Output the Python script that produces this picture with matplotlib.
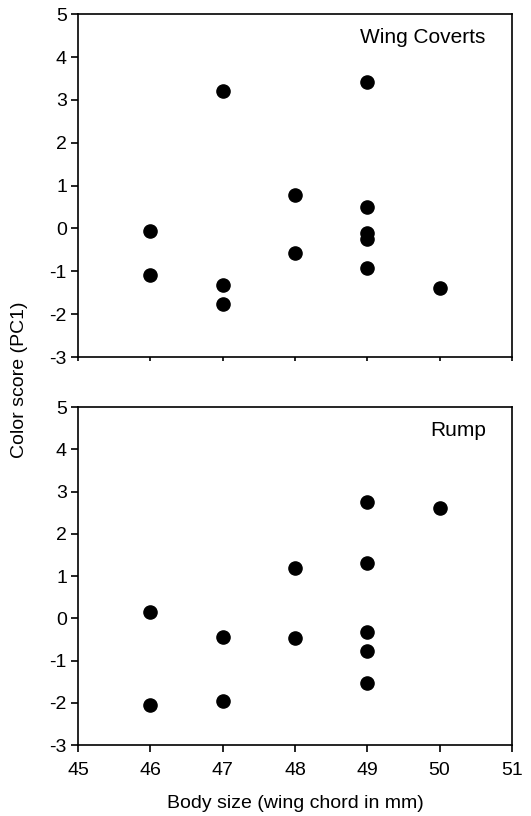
import matplotlib.pyplot as plt

plt.rcParams['font.family'] = ['Liberation Sans', 'DejaVu Sans']
plt.rcParams['axes.unicode_minus'] = False

# body size (wing chord, mm) and colour scores (PC1)
wing_x = [46, 46, 47, 47, 47, 48, 48, 49, 49, 49, 49, 49, 50]
wing_y = [-0.05, -1.09, 3.22, -1.32, -1.77, 0.79, -0.58, 3.41, 0.51, -0.11, -0.25, -0.92, -1.38]

rump_x = [46, 46, 47, 47, 48, 48, 49, 49, 49, 49, 49, 50]
rump_y = [0.14, -2.06, -0.44, -1.95, 1.18, -0.47, 2.76, 1.32, -0.32, -0.77, -1.54, 2.62]

x_ticks = [45, 46, 47, 48, 49, 50, 51]
y_ticks = [-3, -2, -1, 0, 1, 2, 3, 4, 5]

fig = plt.figure(figsize=(5.31, 8.16), dpi=100)
ax1 = fig.add_axes([0.147, 0.5625, 0.817, 0.420])
ax2 = fig.add_axes([0.147, 0.087, 0.817, 0.414])

def style(ax, label, show_x):
    ax.set_xlim(45, 51)
    ax.set_ylim(-3, 5)
    ax.set_xticks(x_ticks)
    ax.set_yticks(y_ticks)
    for s in ax.spines.values():
        s.set_linewidth(1.2)
    ax.tick_params(direction='out', length=5, width=1.2, labelsize=14, pad=3)
    ax.tick_params(axis='x', pad=7)
    if not show_x:
        ax.tick_params(axis='x', length=3, labelbottom=False)
    ax.text(0.94, 0.96, label, transform=ax.transAxes, ha='right', va='top', fontsize=15)

ax1.scatter(wing_x, wing_y, s=90, color='black', zorder=3, clip_on=False)
ax2.scatter(rump_x, rump_y, s=90, color='black', zorder=3, clip_on=False)
style(ax1, 'Wing Coverts', False)
style(ax2, 'Rump', True)

ax2.set_xlabel('Body size (wing chord in mm)', fontsize=14, labelpad=12)
fig.text(0.036, 0.535, 'Color score (PC1)', rotation=90, ha='center', va='center', fontsize=14)

plt.savefig('out.png', dpi=100)
